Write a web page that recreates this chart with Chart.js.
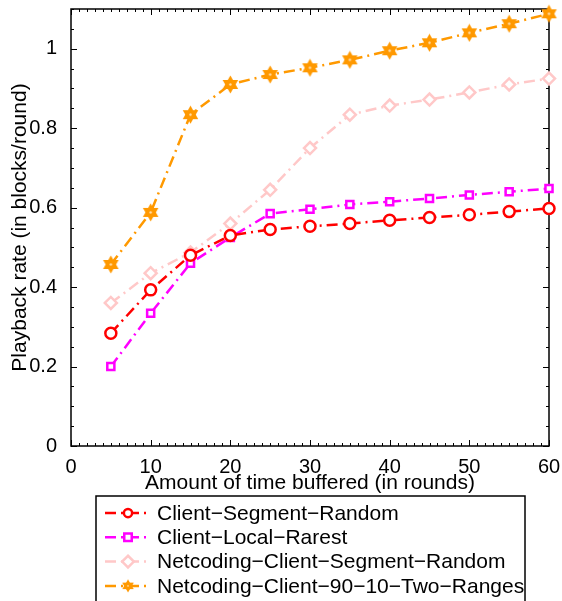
<!DOCTYPE html>
<html>
<head>
<meta charset="utf-8">
<script src="https://cdn.jsdelivr.net/npm/chart.js@4"></script>
<style>
  html, body { margin: 0; padding: 0; background: #fff; }
  #wrap { width: 562px; height: 601px; }
</style>
</head>
<body>
<div id="wrap"><canvas id="rateChart" width="562" height="601"></canvas></div>
<script>
// buffered rounds (x) and playback rate per scheme
const rounds = [5, 10, 15, 20, 25, 30, 35, 40, 45, 50, 55, 60];
const segRandom = [0.284, 0.393, 0.48, 0.53, 0.545, 0.553, 0.56, 0.568, 0.575, 0.582, 0.59, 0.598];
const localRarest = [0.2, 0.334, 0.46, 0.525, 0.585, 0.596, 0.608, 0.615, 0.623, 0.632, 0.64, 0.648];
const ncSegRandom = [0.36, 0.435, 0.487, 0.56, 0.645, 0.75, 0.834, 0.857, 0.872, 0.89, 0.91, 0.925];
const ncTwoRanges = [0.457, 0.588, 0.834, 0.91, 0.935, 0.952, 0.972, 0.995, 1.015, 1.04, 1.063, 1.088];
const seriesNames = [
  "Client\u2212Segment\u2212Random",
  "Client\u2212Local\u2212Rarest",
  "Netcoding\u2212Client\u2212Segment\u2212Random",
  "Netcoding\u2212Client\u221290\u221210\u2212Two\u2212Ranges",
];
const xTicks = [0, 10, 20, 30, 40, 50, 60];
const yTicks = [0, 0.2, 0.4, 0.6, 0.8, 1];

const FONT = "'Liberation Sans', Arial, Helvetica, sans-serif";

// hexagram marker for the orange series
function makeHexagram(color, size) {
  const c = document.createElement("canvas");
  c.width = size;
  c.height = size;
  const g = c.getContext("2d");
  const r = size / 2 - 0.5;
  const cx = size / 2, cy = size / 2;
  g.fillStyle = color;
  [-Math.PI / 2, Math.PI / 2].forEach(function (a0) {
    g.beginPath();
    for (let k = 0; k < 3; k++) {
      const a = a0 + k * 2 * Math.PI / 3;
      const px = cx + r * Math.cos(a), py = cy + r * Math.sin(a);
      if (k === 0) g.moveTo(px, py); else g.lineTo(px, py);
    }
    g.closePath();
    g.fill();
  });
  g.fillStyle = "#ffe0b0";
  g.beginPath();
  g.arc(cx, cy, 1.2, 0, Math.PI * 2);
  g.fill();
  return c;
}
const hexStar = makeHexagram("#ff9900", 19);

function toPoints(arr) {
  return rounds.map((x, i) => ({ x: x, y: arr[i] }));
}

const dash = [11, 5, 2, 5];
const datasets = [
  {
    label: seriesNames[0],
    data: toPoints(segRandom),
    borderColor: "#ff0000",
    backgroundColor: "rgba(0,0,0,0)",
    borderWidth: 2.5,
    borderDash: dash,
    pointStyle: "circle",
    pointRadius: 5.5,
    pointBorderWidth: 2.5,
    pointBackgroundColor: "#ffffff",
    clip: false,
  },
  {
    label: seriesNames[1],
    data: toPoints(localRarest),
    borderColor: "#ff00ff",
    backgroundColor: "rgba(0,0,0,0)",
    borderWidth: 2.5,
    borderDash: dash,
    pointStyle: "rect",
    pointRadius: 5,
    pointBorderWidth: 2.5,
    pointBackgroundColor: "#ffffff",
    clip: false,
  },
  {
    label: seriesNames[2],
    data: toPoints(ncSegRandom),
    borderColor: "#ffc8c8",
    backgroundColor: "rgba(0,0,0,0)",
    borderWidth: 2.5,
    borderDash: dash,
    pointStyle: "rectRot",
    pointRadius: 6,
    pointBorderWidth: 2.5,
    pointBackgroundColor: "#ffffff",
    clip: false,
  },
  {
    label: seriesNames[3],
    data: toPoints(ncTwoRanges),
    borderColor: "#ff9900",
    backgroundColor: "#ff9900",
    borderWidth: 2.5,
    borderDash: dash,
    pointStyle: hexStar,
    pointRadius: 9,
    clip: false,
  },
];

// ? box, inner ticks and the boxed legend under the axis title
const framePlugin = {
  id: "frame",
  beforeDatasetsDraw(chart) {
    const ctx = chart.ctx;
    const a = chart.chartArea;
    const xs = chart.scales.x, ys = chart.scales.y;
    ctx.save();
    ctx.strokeStyle = "#000";
    ctx.lineWidth = 1.5;
    ctx.strokeRect(a.left, a.top, a.right - a.left, a.bottom - a.top);

    ctx.lineWidth = 1;
    ctx.beginPath();
    for (let v = xs.min; v <= xs.max + 1e-9; v += 1) {
      const px = Math.round(xs.getPixelForValue(v)) + 0.5;
      const len = xTicks.includes(v) ? 6 : 3;
      ctx.moveTo(px, a.bottom); ctx.lineTo(px, a.bottom - len);
      ctx.moveTo(px, a.top); ctx.lineTo(px, a.top + len);
    }
    for (let i = 0; i <= 22; i++) {
      const v = i * 0.05;
      const py = Math.round(ys.getPixelForValue(v)) + 0.5;
      const len = i % 4 === 0 ? 6 : 3;
      ctx.moveTo(a.left, py); ctx.lineTo(a.left + len, py);
      ctx.moveTo(a.right, py); ctx.lineTo(a.right - len, py);
    }
    ctx.stroke();
    ctx.restore();
  },
  afterDraw(chart) {
    const ctx = chart.ctx;
    ctx.save();
    // legend
    const boxL = 96, boxT = 496, boxR = 525, boxB = 620;
    ctx.strokeStyle = "#000";
    ctx.lineWidth = 1.5;
    ctx.strokeRect(boxL, boxT, boxR - boxL, boxB - boxT);
    ctx.font = "21px " + FONT;
    ctx.textBaseline = "middle";
    ctx.fillStyle = "#000";
    chart.data.datasets.forEach(function (ds, i) {
      const y = 513 + i * 24.3;
      ctx.save();
      ctx.strokeStyle = ds.borderColor;
      ctx.lineWidth = ds.borderWidth;
      ctx.setLineDash(ds.borderDash);
      ctx.beginPath();
      ctx.moveTo(105, y); ctx.lineTo(150, y);
      ctx.stroke();
      ctx.setLineDash([]);
      if (typeof ds.pointStyle === "string") {
        ctx.fillStyle = ds.pointBackgroundColor;
        ctx.strokeStyle = ds.borderColor;
        ctx.lineWidth = ds.pointBorderWidth;
        ctx.beginPath();
        const r = ds.pointRadius * 0.75;
        if (ds.pointStyle === "circle") ctx.arc(128, y, r, 0, Math.PI * 2);
        else if (ds.pointStyle === "rect") ctx.rect(128 - r, y - r, 2 * r, 2 * r);
        else { ctx.moveTo(128, y - r * 1.3); ctx.lineTo(128 + r * 1.3, y); ctx.lineTo(128, y + r * 1.3); ctx.lineTo(128 - r * 1.3, y); ctx.closePath(); }
        ctx.fill();
        ctx.stroke();
      } else {
        ctx.drawImage(ds.pointStyle, 128 - 7, y - 7, 14, 14);
      }
      ctx.restore();
      ctx.fillText(ds.label, 157, y + 1);
    });
    ctx.restore();
  },
};

const ctx = document.getElementById("rateChart").getContext("2d");
const rateChart = new Chart(ctx, {
  type: "line",
  data: { datasets: datasets },
  options: {
    responsive: false,
    animation: false,
    devicePixelRatio: 1,
    layout: { autoPadding: false, padding: { top: 9, right: 13, bottom: 105, left: 0 } },
    plugins: { legend: { display: false }, tooltip: { enabled: false } },
    scales: {
      x: {
        type: "linear",
        min: 0,
        max: 60,
        grid: { display: false },
        border: { display: false },
        afterBuildTicks: (scale) => { scale.ticks = xTicks.map((v) => ({ value: v })); },
        afterFit: (scale) => { scale.height = 50; scale.paddingLeft = 0; scale.paddingRight = 0; },
        ticks: { color: "#000", padding: 1, maxRotation: 0, font: { size: 20, family: FONT } },
        title: { display: true, text: "Amount of time buffered (in rounds)", color: "#000", padding: { top: 0, bottom: 0 }, font: { size: 21, family: FONT } },
      },
      y: {
        type: "linear",
        min: 0,
        max: 1.1,
        grid: { display: false },
        border: { display: false },
        afterBuildTicks: (scale) => { scale.ticks = yTicks.map((v) => ({ value: v })); },
        afterFit: (scale) => { scale.width = 71; scale.paddingTop = 0; scale.paddingBottom = 0; },
        ticks: {
          color: "#000",
          padding: 6,
          font: { size: 20, family: FONT },
          callback: (v) => String(Math.round(v * 10) / 10),
        },
        title: { display: true, text: "Playback rate (in blocks/round)", color: "#000", padding: { top: 8, bottom: 0 }, font: { size: 21, family: FONT } },
      },
    },
  },
  plugins: [framePlugin],
});
</script>
</body>
</html>
